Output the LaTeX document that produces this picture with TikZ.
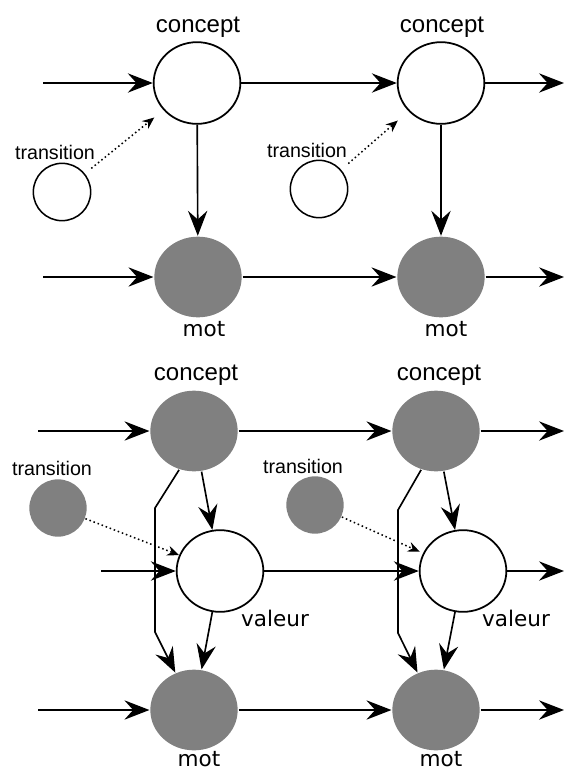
\documentclass[tikz,border=0pt]{standalone}
\usepackage{fontspec}
\setmainfont{Liberation Sans}
\newfontfamily\wordfont{DejaVu Sans}
\usepackage{tikz}
\usetikzlibrary{arrows.meta,shapes.geometric}
\definecolor{obsgray}{RGB}{128,128,128}
\tikzset{>={Stealth[length=7.5mm,width=5.8mm,inset=2.6mm]}}
\tikzstyle{arrow}  = [->,
                      line width=1.4pt]
\tikzstyle{dotarrow} = [-{Stealth[length=3.6mm,width=3mm,inset=1.2mm]},
                        dash pattern=on 1.3pt off 2.4pt,
                        line width=1.3pt]
\tikzstyle{hidden}=[
                    ellipse,
                    draw=black,
                    fill=white,
                    line width=1.5pt,
                    minimum width=2.6cm,
                    minimum height=2.45cm,
                    inner sep=0pt
                   ]
\tikzstyle{seen}=[hidden, draw=none, fill=obsgray, minimum width=2.62cm, minimum height=2.42cm]
\tikzstyle{trans}=[circle, draw=black, fill=white, line width=1.3pt,
                   minimum size=1.72cm, inner sep=0pt]
\tikzstyle{seentrans}=[trans, draw=none, fill=obsgray]
\tikzstyle{tag}=[inner sep=0pt, font=\fontsize{20.5}{24}\selectfont]
\tikzstyle{smalltag}=[inner sep=0pt, font=\fontsize{16.8}{20}\selectfont]
\tikzstyle{wordtag}=[inner sep=0pt, font=\wordfont\fontsize{18.4}{22}\selectfont]

\begin{document}
\begin{tikzpicture}[x=0.03cm, y=-0.03cm]
  \useasboundingbox (0,0) rectangle (565,772);

  % Nodes, upper model
  \node[hidden] (c1) at (197,83) {};
  \node[hidden] (c2) at (441,83) {};
  \node[seen] (m1) at (198,277) {};
  \node[seen] (m2) at (441,277) {};
  \node[trans] (t1) at (62,192) {};
  \node[trans] (t2) at (319,189) {};

  \node[tag] (c1lab) at (198,27) {concept};
  \node[tag] (c2lab) at (442,27) {concept};
  \node[wordtag] (m1lab) at (204,329) {mot};
  \node[wordtag] (m2lab) at (446,329) {mot};
  \node[smalltag] (t1lab) at (55,152) {transition};
  \node[smalltag] (t2lab) at (307,150) {transition};

  \coordinate (c1in) at (43,83);
  \coordinate (c2out) at (564,83);
  \coordinate (m1in) at (43,277);
  \coordinate (m2out) at (564,277);

  % Nodes, lower model
  \node[seen] (c3) at (194,431) {};
  \node[seen] (c4) at (436,431) {};
  \node[hidden] (v3) at (220,571) {};
  \node[hidden] (v4) at (463,571) {};
  \node[seen] (m3) at (194,710) {};
  \node[seen] (m4) at (436,710) {};
  \node[seentrans] (t3) at (58,508) {};
  \node[seentrans] (t4) at (315,505) {};

  \node[tag] (c3lab) at (196,375) {concept};
  \node[tag] (c4lab) at (439,375) {concept};
  \node[wordtag] (v3lab) at (275,618) {valeur};
  \node[wordtag] (v4lab) at (516,618) {valeur};
  \node[wordtag] (m3lab) at (199,759) {mot};
  \node[wordtag] (m4lab) at (441,759) {mot};
  \node[smalltag] (t3lab) at (52,468) {transition};
  \node[smalltag] (t4lab) at (303,466) {transition};

  \coordinate (c3in) at (38,431);
  \coordinate (c4out) at (564,431);
  \coordinate (v3in) at (101,571);
  \coordinate (v4out) at (564,571);
  \coordinate (m3in) at (38,710);
  \coordinate (m4out) at (564,710);
  \coordinate (k3a) at (155,508);
  \coordinate (k3b) at (155,632);
  \coordinate (k4a) at (398,510);
  \coordinate (k4b) at (398,633);

  % Edges, upper model
  \draw[arrow] (c1in) -- (c1);
  \draw[arrow] (c1) -- (c2);
  \draw[arrow] (c2) -- (c2out);
  \draw[arrow] (m1in) -- (m1);
  \draw[arrow] (m1) -- (m2);
  \draw[arrow] (m2) -- (m2out);
  \draw[arrow] (c1) -- (m1);
  \draw[arrow] (c2) -- (m2);
  \draw[dotarrow, shorten <=7pt, shorten >=10pt] (t1) -- (c1);
  \draw[dotarrow, shorten <=8pt, shorten >=12pt] (t2) -- (c2);

  % Edges, lower model
  \draw[arrow] (c3in) -- (c3);
  \draw[arrow] (c3) -- (c4);
  \draw[arrow] (c4) -- (c4out);
  \draw[arrow] (v3in) -- (v3);
  \draw[arrow] (v3) -- (v4);
  \draw[arrow] (v4) -- (v4out);
  \draw[arrow] (m3in) -- (m3);
  \draw[arrow] (m3) -- (m4);
  \draw[arrow] (m4) -- (m4out);
  \draw[arrow] (c3) -- (v3);
  \draw[arrow] (v3) -- (m3);
  \draw[arrow] (c4) -- (v4);
  \draw[arrow] (v4) -- (m4);
  \draw[arrow] (c3.249) -- (k3a) -- (k3b) -- (m3);
  \draw[arrow] (c4.249) -- (k4a) -- (k4b) -- (m4);
  \draw[dotarrow] (t3) -- (v3);
  \draw[dotarrow, shorten >=3pt] (t4) -- (v4);

\end{tikzpicture}
\end{document}
